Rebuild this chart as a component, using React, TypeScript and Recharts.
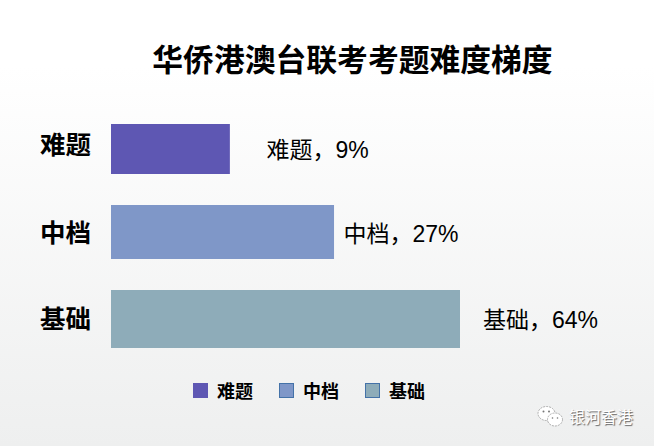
import { BarChart, Bar, XAxis, YAxis, Legend, LabelList, Rectangle } from 'recharts';

const FONT = '"Liberation Sans", "Noto Sans CJK SC", sans-serif';

const categories = ['难题', '中档', '基础'];
// the share printed next to each bar
const shareLabels = [9, 27, 64];
// drawn bar lengths: they are not proportional to the printed shares
const barLengths = [21.8, 40.9, 64];
const colors = ['#5e57b3', '#7f97c8', '#8eacb9'];
const legendStrokes = ['#5e57b3', '#4472a8', '#4472a8'];
const barHeights = [50, 54, 58];
const barNudges = [2, -1, 0];
const labelGaps = [36.5, 9.5, 23];
const labelNudges = [1, 2, 1];
const tickNudges = [-2, 0, 0];

const data = categories.map((name, i) => ({ name, [name]: barLengths[i] }));

function CategoryBar({ x, y, width, height, fill, idx }: any) {
  if (!width) return null;
  const mid = y + height / 2 + barNudges[idx];
  return <Rectangle x={x} y={mid - barHeights[idx] / 2} width={width} height={barHeights[idx]} fill={fill} />;
}

function CategoryTick({ x, y, payload, index }: any) {
  return (
    <text x={x} y={y + tickNudges[index]} textAnchor="end" dominantBaseline="central" fontFamily={FONT} fontSize={25.5} fontWeight="bold" fill="#000">
      {payload.value}
    </text>
  );
}

function ShareLabel({ x, y, width, height, value, idx }: any) {
  if (!value) return null;
  return (
    <text x={x + width + labelGaps[idx]} y={y + height / 2 + barNudges[idx] + labelNudges[idx]} dominantBaseline="central" fontFamily={FONT} fontSize={23} fill="#000">
      {`${categories[idx]}，${shareLabels[idx]}%`}
    </text>
  );
}

function ChartLegend() {
  return (
    <div style={{ display: 'flex', alignItems: 'center', fontFamily: FONT, fontSize: 18, fontWeight: 'bold', color: '#000' }}>
      {categories.map((name, i) => (
        <div key={name} style={{ display: 'flex', alignItems: 'center', marginRight: 26 }}>
          <span style={{ width: 13, height: 13, background: colors[i], border: `1px solid ${legendStrokes[i]}`, marginRight: 9 }} />
          {name}
        </div>
      ))}
    </div>
  );
}

function WeChatIcon() {
  return (
    <svg width={28} height={24} viewBox="0 0 28 24" style={{ position: 'absolute', left: 537, top: 405 }}>
      <ellipse cx={9.5} cy={8.5} rx={8.5} ry={7} fill="#fff" stroke="#999" strokeWidth={0.8} strokeDasharray="2 1" />
      <ellipse cx={18} cy={14.5} rx={7.5} ry={6.5} fill="#fff" stroke="#999" strokeWidth={0.8} strokeDasharray="2 1" />
      <circle cx={6.5} cy={6.5} r={1} fill="#777" />
      <circle cx={12} cy={6.5} r={1} fill="#777" />
      <circle cx={15.5} cy={13} r={0.8} fill="#777" />
      <circle cx={20.5} cy={13} r={0.8} fill="#777" />
    </svg>
  );
}

export default function App() {
  return (
    <div style={{ position: 'absolute', left: 0, top: 0, width: 654, height: 446, overflow: 'hidden', background: 'linear-gradient(#ffffff 0%, #ffffff 15%, #eeefef 100%)' }}>
      <div style={{ position: 'absolute', left: 0, top: 41, width: 705, textAlign: 'center', fontFamily: FONT, fontSize: 30.8, lineHeight: '40px', fontWeight: 'bold', color: '#000' }}>
        华侨港澳台联考考题难度梯度
      </div>
      <BarChart
        width={654}
        height={446}
        data={data}
        layout="vertical"
        margin={{ top: 104, right: 194, bottom: 84, left: 0 }}
        barCategoryGap={0}
        style={{ position: 'absolute', left: 0, top: 0 }}
      >
        <XAxis type="number" domain={[0, 64]} hide />
        <YAxis type="category" dataKey="name" width={111} axisLine={false} tickLine={false} tickMargin={14} tick={CategoryTick} interval={0} />
        <Legend
          verticalAlign="middle"
          content={ChartLegend}
          wrapperStyle={{ position: 'absolute', left: 193, top: 377, width: 300 }}
        />
        {categories.map((name, i) => (
          <Bar
            key={name}
            dataKey={name}
            stackId="share"
            fill={colors[i]}
            isAnimationActive={false}
            shape={(props: any) => <CategoryBar {...props} idx={i} />}
          >
            <LabelList dataKey={name} content={(props: any) => <ShareLabel {...props} idx={i} />} />
          </Bar>
        ))}
      </BarChart>
      <WeChatIcon />
      <div style={{ position: 'absolute', left: 569, top: 408, fontFamily: FONT, fontSize: 16, lineHeight: '20px', color: '#fff', textShadow: '1px 1px 1px #666' }}>
        银河香港
      </div>
    </div>
  );
}
